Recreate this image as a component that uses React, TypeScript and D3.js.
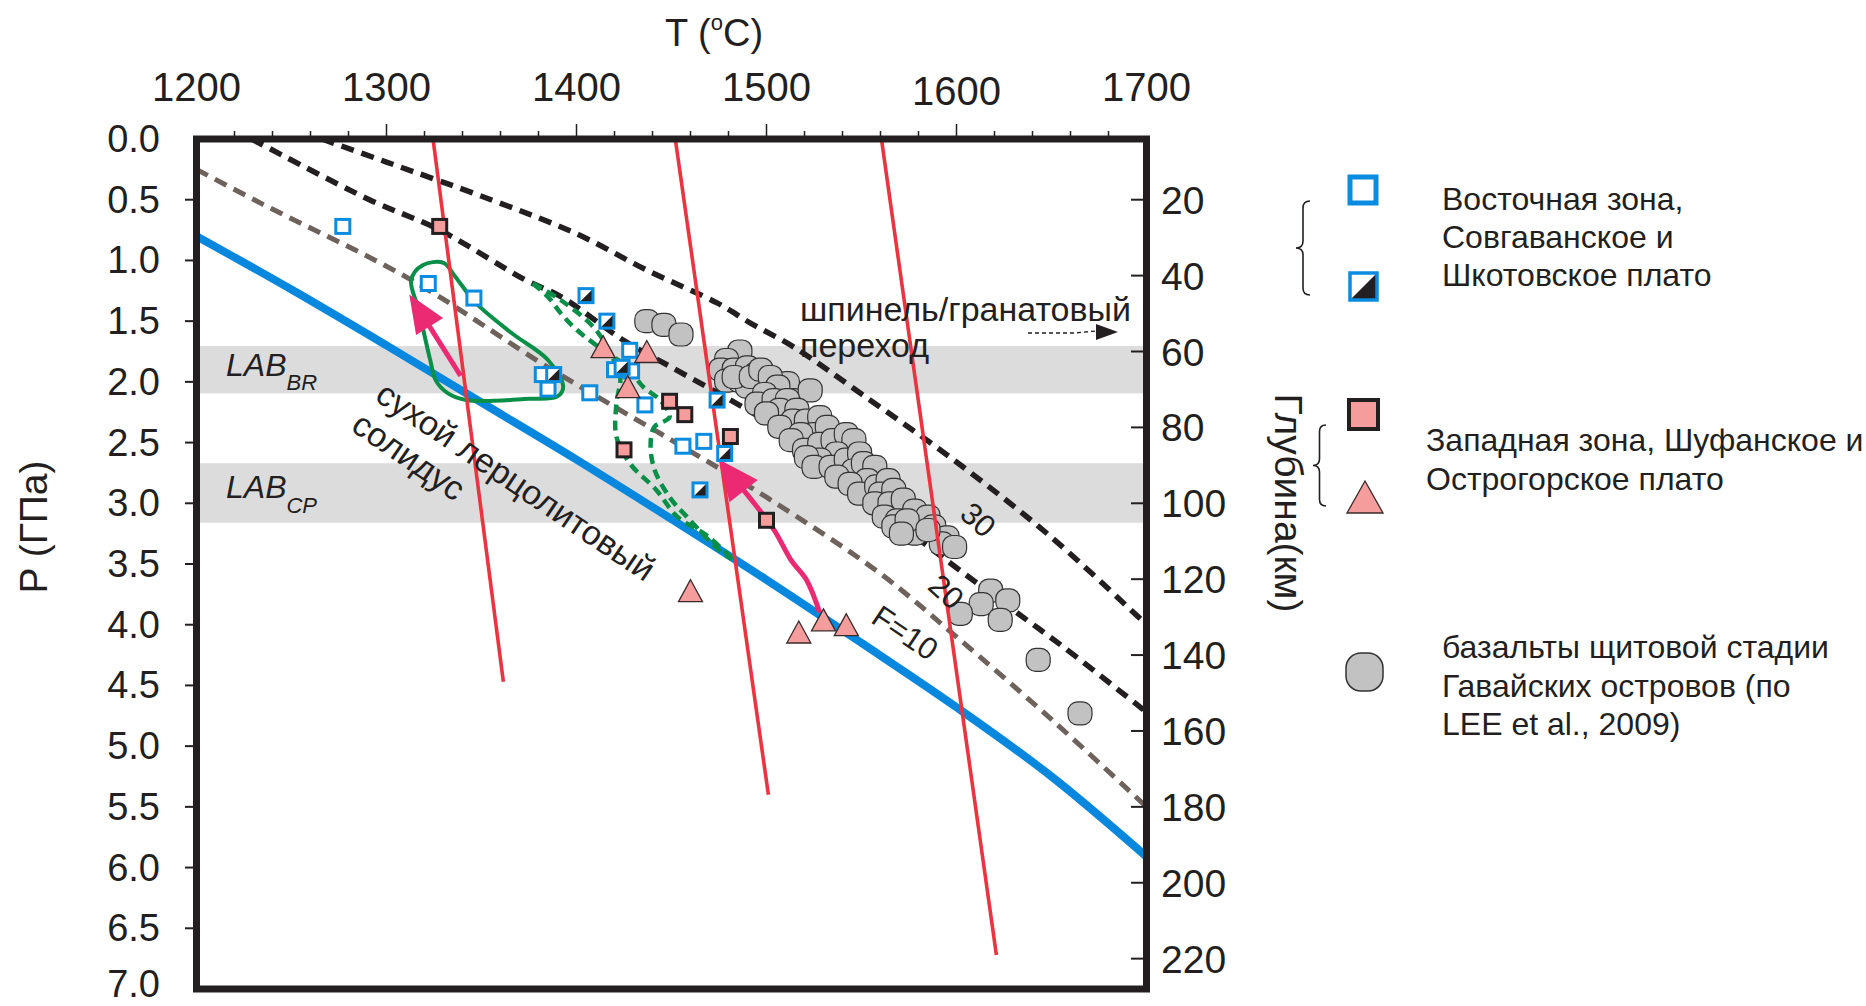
import React from 'react';
import * as d3 from 'd3';

type Pt = [number, number];

// ---- axes ----
const tempTicks = [1200, 1300, 1400, 1500, 1600, 1700];
const tempMinorTicks = [1220, 1240, 1260, 1280, 1320, 1340, 1360, 1380, 1420, 1440, 1460, 1480, 1520, 1540, 1560, 1580, 1620, 1640, 1660, 1680];
const pressureTicks = [0, 0.5, 1, 1.5, 2, 2.5, 3, 3.5, 4, 4.5, 5, 5.5, 6, 6.5, 7];
const depthTicks = [20, 40, 60, 80, 100, 120, 140, 160, 180, 200, 220];

// ---- LAB bands (GPa) ----
const labBR: Pt = [1.705, 2.095];
const labCP: Pt = [2.67, 3.16];

// ---- curves [T, P] ----
const solidus: Pt[] = [[1200, 0.80], [1250, 1.24], [1300, 1.70], [1350, 2.17], [1400, 2.64], [1450, 3.13], [1500, 3.63], [1550, 4.15], [1600, 4.68], [1650, 5.25], [1700, 5.91]];
const meltF10: Pt[] = [[1200, 0.25], [1234, 0.53], [1313, 1.16], [1385, 1.88], [1450, 2.48], [1500, 2.95], [1560, 3.58], [1600, 4.1], [1650, 4.78], [1700, 5.5]];
const meltF20: Pt[] = [[1229, 0], [1291, 0.5], [1328, 0.75], [1373, 1.16], [1392, 1.30], [1425, 1.66], [1450, 1.88], [1490, 2.23], [1504, 2.37], [1583, 3.33], [1630, 3.88], [1656, 4.18], [1700, 4.72]];
const meltF30: Pt[] = [[1266, 0], [1300, 0.19], [1355, 0.5], [1400, 0.78], [1437, 1.08], [1474, 1.35], [1492, 1.52], [1514, 1.71], [1550, 2.1], [1600, 2.66], [1650, 3.28], [1700, 4.0]];
const adiabatA: Pt[] = [[1324.5, 0], [1361.5, 4.47]];
const adiabatB: Pt[] = [[1452, 0], [1501, 5.4]];
const adiabatC: Pt[] = [[1560.5, 0], [1621, 6.72]];

const greenLoop: Pt[] = [[1313, 1.16], [1319, 1.04], [1330, 1.02], [1336, 1.13], [1347, 1.35], [1366, 1.60], [1385, 1.82], [1393, 2.04], [1390, 2.12], [1375, 2.14], [1342, 2.15], [1332, 2.09], [1326, 1.99], [1323, 1.82], [1317, 1.41]];
const greenDashA: Pt[] = [[1377, 1.19], [1392, 1.33], [1409, 1.55], [1418, 1.77], [1423, 1.96], [1421, 2.18], [1421, 2.45], [1428, 2.67], [1442, 2.89], [1453, 3.11], [1469, 3.27], [1482, 3.46]];
const greenDashB: Pt[] = [[1377, 1.19], [1385, 1.30], [1392, 1.44], [1400, 1.57], [1414, 1.74], [1427, 1.88], [1435, 2.04], [1444, 2.15], [1449, 2.29], [1441, 2.37], [1439, 2.51], [1441, 2.72], [1449, 2.95], [1458, 3.11], [1476, 3.40], [1482, 3.46]];

const arrowWest: Pt[] = [[1339, 1.95], [1312, 1.28]];
const arrowEast: Pt[] = [[1528, 3.90], [1521, 3.63], [1513, 3.47], [1504, 3.22], [1492, 2.97], [1484, 2.82], [1475, 2.64]];

// ---- samples [T, P] ----
const eastOpen: Pt[] = [[1277, 0.72], [1322, 1.19], [1346, 1.31], [1382, 1.94], [1385, 2.06], [1407, 2.09], [1428, 1.74], [1420, 1.90], [1429, 1.91], [1436, 2.19], [1456, 2.53], [1467, 2.49]];
const eastHalf: Pt[] = [[1388, 1.94], [1405, 1.29], [1416, 1.50], [1424, 1.88], [1474, 2.15], [1478, 2.59], [1465, 2.89]];
const westSquares: Pt[] = [[1328, 0.72], [1449, 2.16], [1457, 2.27], [1425, 2.56], [1481, 2.45], [1500, 3.14]];
const westTriangles: Pt[] = [[1414, 1.71], [1437, 1.75], [1427, 2.04], [1460, 3.72], [1517, 4.06], [1530, 3.96], [1542, 4.00]];
const hawaiiBasalts: Pt[] = [
  [1437, 1.50], [1446, 1.53], [1455, 1.61],
  [1486, 1.75], [1479, 1.82], [1476, 1.90], [1483, 1.90], [1490, 1.88], [1479, 1.99], [1486, 1.99], [1495, 1.93], [1500, 1.99],
  [1497, 2.07], [1490, 2.04], [1504, 2.07], [1511, 2.01], [1506, 2.18], [1514, 2.15], [1523, 2.07], [1483, 1.96], [1492, 1.96],
  [1497, 1.90], [1502, 1.96], [1506, 2.04], [1499, 2.10], [1495, 2.18], [1504, 2.15], [1511, 2.15], [1507, 2.23], [1500, 2.26],
  [1516, 2.23], [1514, 2.32], [1521, 2.32], [1528, 2.29], [1507, 2.37], [1525, 2.43], [1532, 2.37], [1518, 2.43], [1513, 2.48],
  [1520, 2.56], [1528, 2.51], [1535, 2.48], [1542, 2.43], [1546, 2.48], [1537, 2.59], [1528, 2.64], [1521, 2.62], [1525, 2.70],
  [1534, 2.70], [1542, 2.64], [1549, 2.59], [1546, 2.73], [1537, 2.78], [1551, 2.67], [1557, 2.70], [1553, 2.81], [1544, 2.84],
  [1549, 2.92], [1558, 2.86], [1564, 2.81], [1560, 2.92], [1567, 2.89], [1557, 3.00], [1565, 3.00], [1572, 2.97], [1578, 3.06],
  [1562, 3.11], [1569, 3.14], [1578, 3.17], [1585, 3.11], [1588, 3.19], [1578, 3.25], [1595, 3.28], [1592, 3.33], [1567, 3.19],
  [1574, 3.14], [1571, 3.25], [1585, 3.22], [1599, 3.36],
  [1618, 3.72], [1627, 3.80], [1613, 3.83], [1602, 3.91], [1623, 3.96], [1643, 4.29], [1665, 4.73],
];

const FONT = "'Liberation Sans', Arial, sans-serif";
const INK = '#231f20';
const BLUE = '#0a8ce0';
const PINK = '#f59d9d';

function brace(xr: number, y0: number, y1: number, w: number) {
  const xl = xr - w;
  const xm = (xl + xr) / 2;
  const ym = (y0 + y1) / 2;
  const r = w / 2;
  return `M${xr},${y0} Q${xm},${y0} ${xm},${y0 + r} L${xm},${ym - r} Q${xm},${ym} ${xl},${ym} Q${xm},${ym} ${xm},${ym + r} L${xm},${y1 - r} Q${xm},${y1} ${xr},${y1}`;
}

export default function App() {
  const W = 1866, H = 1006;
  const L = 196.5, R = 1146.5, T0 = 139, B0 = 989;
  const x = d3.scaleLinear().domain([1200, 1700]).range([L, R]);
  const y = d3.scaleLinear().domain([0, 7]).range([T0, B0]);
  const yd = d3.scaleLinear().domain([20, 220]).range([y(0.5), y(6.75)]);

  const straight = d3.line<Pt>().x(d => x(d[0])).y(d => y(d[1]));
  const smooth = d3.line<Pt>().x(d => x(d[0])).y(d => y(d[1])).curve(d3.curveCatmullRom.alpha(0.5));
  const closed = d3.line<Pt>().x(d => x(d[0])).y(d => y(d[1])).curve(d3.curveCatmullRomClosed.alpha(0.5));

  const arrow = (pts: Pt[], len: number, hw: number) => {
    const sp = pts.map(p => [x(p[0]), y(p[1])] as [number, number]);
    const tip = sp[sp.length - 1];
    const prev = sp[sp.length - 2];
    const dx = tip[0] - prev[0], dy = tip[1] - prev[1];
    const n = Math.hypot(dx, dy);
    const ux = dx / n, uy = dy / n;
    const bx = tip[0] - ux * len, by = tip[1] - uy * len;
    const shaft = sp.slice(0, -1).concat([[bx + ux * 4, by + uy * 4]]);
    const head = `M${tip[0]},${tip[1]} L${bx - uy * hw},${by + ux * hw} L${bx + uy * hw},${by - ux * hw} Z`;
    const shaftPath = d3.line().curve(d3.curveCatmullRom.alpha(0.5))(shaft) || '';
    return { shaftPath, head };
  };
  const a1 = arrow(arrowWest, 38, 16);
  const a2 = arrow(arrowEast, 40, 18);

  const sq = 14;
  const triW = 24, triH = 22;
  const triPath = (cx: number, cy: number, w: number, h: number) => `M${cx},${cy - h / 2} L${cx + w / 2},${cy + h / 2} L${cx - w / 2},${cy + h / 2} Z`;

  return (
    <svg width={W} height={H} viewBox={`0 0 ${W} ${H}`} style={{ position: 'absolute', left: 0, top: 0, display: 'block', background: '#fff' }} fontFamily={FONT}>
      <defs>
        <clipPath id="plot">
          <rect x={L} y={T0} width={R - L} height={B0 - T0} />
        </clipPath>
      </defs>

      {/* LAB bands */}
      <rect x={L} y={y(labBR[0])} width={R - L} height={y(labBR[1]) - y(labBR[0])} fill="#dcdcdc" />
      <rect x={L} y={y(labCP[0])} width={R - L} height={y(labCP[1]) - y(labCP[0])} fill="#dcdcdc" />

      <g clipPath="url(#plot)">
        <path d={smooth(meltF10) || ''} fill="none" stroke="#6e625c" strokeWidth={5} strokeDasharray="13 8" />
        <path d={smooth(meltF20) || ''} fill="none" stroke={INK} strokeWidth={5.5} strokeDasharray="13 8" />
        <path d={smooth(meltF30) || ''} fill="none" stroke={INK} strokeWidth={5.5} strokeDasharray="13 8" />
        <path d={smooth(solidus) || ''} fill="none" stroke="#0788de" strokeWidth={8} />
        <path d={closed(greenLoop) || ''} fill="none" stroke="#0a8f48" strokeWidth={4} />
        <path d={smooth(greenDashA) || ''} fill="none" stroke="#0a8f48" strokeWidth={4.5} strokeDasharray="10 6" />
        <path d={smooth(greenDashB) || ''} fill="none" stroke="#0a8f48" strokeWidth={4.5} strokeDasharray="10 6" />

        {hawaiiBasalts.map((d, i) => (
          <rect key={'b' + i} x={x(d[0]) - 12} y={y(d[1]) - 11.5} width={24} height={23} rx={9.5} fill="#c2c2c2" stroke="#333" strokeWidth={1.2} />
        ))}

        <path d={straight(adiabatA) || ''} fill="none" stroke="#ec3440" strokeWidth={3.6} />
        <path d={straight(adiabatB) || ''} fill="none" stroke="#ec3440" strokeWidth={3.6} />
        <path d={straight(adiabatC) || ''} fill="none" stroke="#ec3440" strokeWidth={3.6} />
      </g>

      {/* arrows */}
      <path d={a1.shaftPath} fill="none" stroke="#ec2a74" strokeWidth={5} />
      <path d={a1.head} fill="#ec2a74" />
      <path d={a2.shaftPath} fill="none" stroke="#ec2a74" strokeWidth={5} />
      <path d={a2.head} fill="#ec2a74" />

      {/* samples */}
      {eastOpen.map((d, i) => (
        <rect key={'eo' + i} x={x(d[0]) - sq / 2} y={y(d[1]) - sq / 2} width={sq} height={sq} fill="#fff" stroke={BLUE} strokeWidth={3} />
      ))}
      {eastHalf.map((d, i) => {
        const cx = x(d[0]), cy = y(d[1]), h = sq / 2;
        return (
          <g key={'eh' + i}>
            <rect x={cx - h} y={cy - h} width={sq} height={sq} fill="#fff" />
            <path d={`M${cx + h},${cy - h} L${cx + h},${cy + h} L${cx - h},${cy + h} Z`} fill={INK} />
            <rect x={cx - h} y={cy - h} width={sq} height={sq} fill="none" stroke={BLUE} strokeWidth={3} />
          </g>
        );
      })}
      {westSquares.map((d, i) => (
        <rect key={'ws' + i} x={x(d[0]) - sq / 2} y={y(d[1]) - sq / 2} width={sq} height={sq} fill={PINK} stroke={INK} strokeWidth={3} />
      ))}
      {westTriangles.map((d, i) => (
        <path key={'wt' + i} d={triPath(x(d[0]), y(d[1]), triW, triH)} fill={PINK} stroke="#3a2a2a" strokeWidth={1.3} />
      ))}

      {/* in-plot labels */}
      <text x={226} y={376} fontSize={32} fontStyle="italic" fill={INK}>LAB<tspan fontSize={22} dy={14}>BR</tspan></text>
      <text x={226} y={498} fontSize={32} fontStyle="italic" fill={INK}>LAB<tspan fontSize={22} dy={15}>CP</tspan></text>
      <text transform="translate(516,481) rotate(34)" textAnchor="middle" dominantBaseline="central" fontSize={34} fill={INK}>сухой лерцолитовый</text>
      <text transform="translate(409,456) rotate(34.5)" textAnchor="middle" dominantBaseline="central" fontSize={34} fill={INK}>солидус</text>
      <text transform="translate(905,633) rotate(34)" textAnchor="middle" dominantBaseline="central" fontSize={31} fill={INK}>F=10</text>
      <text transform="translate(946,592) rotate(42)" textAnchor="middle" dominantBaseline="central" fontSize={31} fill={INK}>20</text>
      <text transform="translate(978,520) rotate(42)" textAnchor="middle" dominantBaseline="central" fontSize={31} fill={INK}>30</text>
      <text x={800} y={321} fontSize={34} fill={INK}>шпинель/гранатовый</text>
      <text x={800} y={357} fontSize={34} fill={INK}>переход</text>
      <path d="M1028,333 L1074,333 L1096,331" fill="none" stroke={INK} strokeWidth={1.3} strokeDasharray="4 3" />
      <path d="M1118,332 L1096,324 L1096,340 Z" fill={INK} />

      {/* ticks */}
      {tempMinorTicks.map(t => <line key={'tm' + t} x1={x(t)} x2={x(t)} y1={131} y2={139} stroke={INK} strokeWidth={1.5} />)}
      {tempTicks.filter(t => t > 1200 && t < 1700).map(t => <line key={'tM' + t} x1={x(t)} x2={x(t)} y1={124} y2={139} stroke={INK} strokeWidth={1.5} />)}
      {pressureTicks.filter(p => p > 0 && p < 7).map(p => <line key={'pt' + p} x1={185} x2={197} y1={y(p)} y2={y(p)} stroke={INK} strokeWidth={2} />)}
      {depthTicks.map(d => <line key={'dt' + d} x1={1131} x2={1147} y1={yd(d)} y2={yd(d)} stroke={INK} strokeWidth={2} />)}

      {/* frame */}
      <rect x={L} y={T0} width={R - L} height={B0 - T0} fill="none" stroke={INK} strokeWidth={7} />

      {/* tick labels */}
      {tempTicks.map(t => (
        <text key={'tl' + t} x={x(t)} y={t === 1600 ? 105 : 101} textAnchor="middle" fontSize={40} fill={INK}>{t}</text>
      ))}
      {pressureTicks.map(p => (
        <text key={'pl' + p} x={160} y={Math.min(y(p) + 13, 997)} textAnchor="end" fontSize={38} fill={INK}>{p.toFixed(1)}</text>
      ))}
      {depthTicks.map(d => (
        <text key={'dl' + d} x={1161} y={yd(d) + 14} textAnchor="start" fontSize={39} fill={INK}>{d}</text>
      ))}

      {/* axis titles */}
      <text x={714} y={46} textAnchor="middle" fontSize={38} fill={INK}>T (<tspan fontSize={22} dy={-16}>o</tspan><tspan dy={16}>C)</tspan></text>
      <text transform="translate(47,527) rotate(-90)" textAnchor="middle" fontSize={39} fill={INK}>P (ГПа)</text>
      <text transform="translate(1275,503) rotate(90)" textAnchor="middle" fontSize={39} fill={INK}>Глубина(км)</text>

      {/* legend */}
      <rect x={1350} y={177} width={26} height={26} fill="#fff" stroke={BLUE} strokeWidth={5} />
      <rect x={1350} y={273} width={27} height={27} fill="#fff" />
      <path d="M1377,273 L1377,300 L1350,300 Z" fill={INK} />
      <rect x={1350} y={273} width={27} height={27} fill="none" stroke={BLUE} strokeWidth={3.5} />
      <path d={brace(1310, 201, 295, 14)} fill="none" stroke={INK} strokeWidth={1.6} />
      <text x={1442} y={210} fontSize={32} fill={INK}>Восточная зона,</text>
      <text x={1442} y={248} fontSize={32} fill={INK}>Совгаванское и</text>
      <text x={1442} y={286} fontSize={32} fill={INK}>Шкотовское плато</text>

      <rect x={1349} y={400} width={29} height={29} fill={PINK} stroke={INK} strokeWidth={4} />
      <path d={triPath(1365, 497, 36, 32)} fill={PINK} stroke="#3a2a2a" strokeWidth={1.3} />
      <path d={brace(1326, 425, 506, 13)} fill="none" stroke={INK} strokeWidth={1.6} />
      <text x={1426} y={451} fontSize={32} fill={INK}>Западная зона, Шуфанское и</text>
      <text x={1426} y={490} fontSize={32} fill={INK}>Острогорское плато</text>

      <rect x={1346} y={653} width={37} height={38} rx={15} fill="#c2c2c2" stroke="#333" strokeWidth={1.5} />
      <text x={1442} y={658} fontSize={32} fill={INK}>базальты щитовой стадии</text>
      <text x={1442} y={697} fontSize={32} fill={INK}>Гавайских островов (по</text>
      <text x={1442} y={735} fontSize={32} fill={INK}>LEE et al., 2009)</text>
    </svg>
  );
}
